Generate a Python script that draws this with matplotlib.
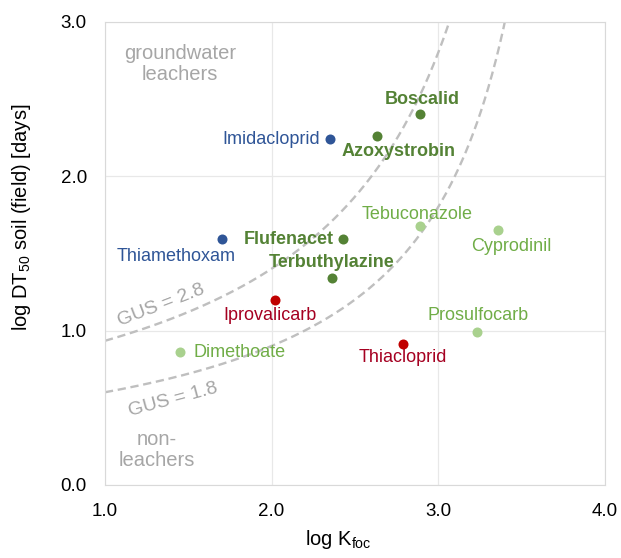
import matplotlib.pyplot as plt
import numpy as np

plt.rcParams['font.family'] = ['Liberation Sans', 'DejaVu Sans']

# log Koc and log DT50 (field) per active substance
names = ["Imidacloprid", "Thiamethoxam", "Azoxystrobin", "Boscalid", "Flufenacet",
         "Terbuthylazine", "Tebuconazole", "Cyprodinil", "Prosulfocarb", "Dimethoate",
         "Iprovalicarb", "Thiacloprid"]
log_koc = [2.35, 1.70, 2.63, 2.89, 2.43, 2.36, 2.89, 3.36, 3.23, 1.45, 2.02, 2.79]
log_dt50 = [2.24, 1.59, 2.26, 2.40, 1.59, 1.34, 1.68, 1.65, 0.99, 0.86, 1.20, 0.91]
groups = ["neo", "neo", "bold", "bold", "bold", "bold", "light", "light", "light", "light",
          "red", "red"]
gus_levels = [2.8, 1.8]

point_colors = {"neo": "#2F5597", "bold": "#548235", "light": "#A9D18E", "red": "#C00000"}
text_colors = {"neo": "#2F5597", "bold": "#548235", "light": "#70AD47", "red": "#A50021"}

# label offsets in points, plus alignment
label_pos = {
    "Imidacloprid": (-7, 0, "right", "center"),
    "Thiamethoxam": (-33, -12, "center", "center"),
    "Azoxystrobin": (16, -11.5, "center", "center"),
    "Boscalid": (2, 11, "center", "center"),
    "Flufenacet": (-6.5, 0, "right", "center"),
    "Terbuthylazine": (0, 11.5, "center", "center"),
    "Tebuconazole": (-2, 8, "center", "center"),
    "Cyprodinil": (9.5, -12, "center", "center"),
    "Prosulfocarb": (1, 12, "center", "center"),
    "Dimethoate": (10, 0, "left", "center"),
    "Iprovalicarb": (-3.5, -11.5, "center", "center"),
    "Thiacloprid": (0, -9.5, "center", "center"),
}

fig = plt.figure(figsize=(6.21, 5.58), dpi=100)
ax = fig.add_axes([0.169, 0.131, 0.805, 0.83])

# GUS = log DT50 * (4 - log Koc)
xs = np.linspace(1.0, 3.99, 400)
for g in gus_levels:
    ys = g / (4 - xs)
    ax.plot(xs, ys, ls=(0, (3.5, 2)), color="#BFBFBF", lw=1.7, zorder=1)

for n, x, y, grp in zip(names, log_koc, log_dt50, groups):
    ax.scatter(x, y, s=52, color=point_colors[grp], zorder=3, linewidths=0)
    dx, dy, ha, va = label_pos[n]
    ax.annotate(n, (x, y), xytext=(dx, dy), textcoords="offset points",
                ha=ha, va=va, fontsize=13, color=text_colors[grp],
                fontweight="bold" if grp == "bold" else "normal")

gray = "#A6A6A6"
ax.text(1.45, 2.725, "groundwater\nleachers", ha="center", va="center", fontsize=14.5,
        color=gray, linespacing=1.1)
ax.text(1.31, 0.225, "non-\nleachers", ha="center", va="center", fontsize=14.5,
        color=gray, linespacing=1.1)
ax.text(1.335, 1.16, "GUS = 2.8", ha="center", va="center", fontsize=14, color=gray,
        rotation=21)
ax.text(1.41, 0.55, "GUS = 1.8", ha="center", va="center", fontsize=14, color=gray,
        rotation=15)

ax.set_xlim(1.0, 4.0)
ax.set_ylim(0.0, 3.0)
ax.set_xticks([1.0, 2.0, 3.0, 4.0])
ax.set_yticks([0.0, 1.0, 2.0, 3.0])
ax.set_xticklabels(["1.0", "2.0", "3.0", "4.0"])
ax.set_yticklabels(["0.0", "1.0", "2.0", "3.0"])
ax.tick_params(length=0, labelsize=13.5, pad=13)
ax.grid(color="#E8E8E8", lw=0.9)
ax.set_axisbelow(True)
for s in ax.spines.values():
    s.set_color("#D9D9D9")

ax.set_xlabel(r"log K$_{\mathregular{foc}}$", fontsize=14.5, va="center")
ax.set_ylabel(r"log DT$_{\mathregular{50}}$ soil (field) [days]", fontsize=14.5,
              va="center")
ax.xaxis.set_label_coords(0.466, -0.118)
ax.yaxis.set_label_coords(-0.166, 0.577)

fig.savefig("out.png", dpi=100)
